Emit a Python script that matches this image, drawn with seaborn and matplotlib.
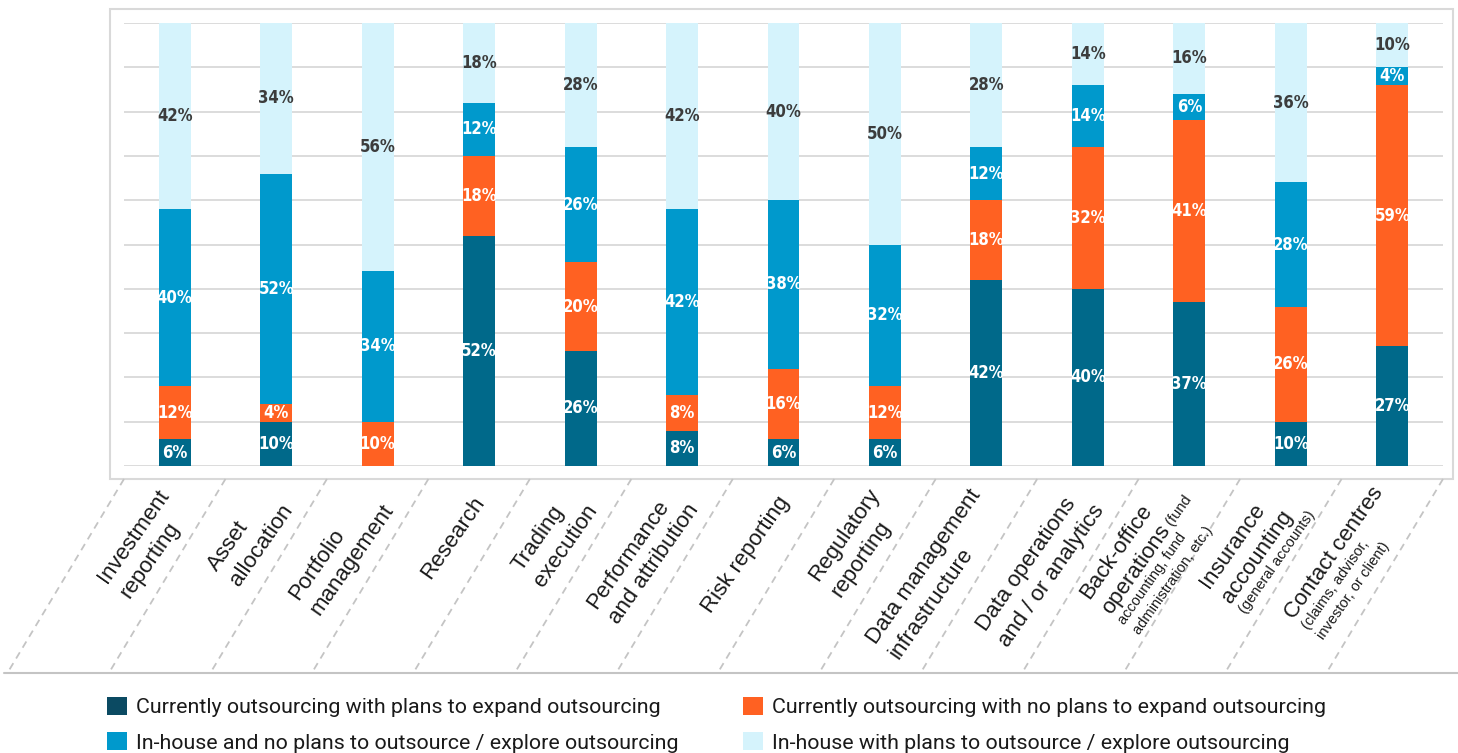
import numpy as np
import pandas as pd
import seaborn as sns
import matplotlib.pyplot as plt
from matplotlib import font_manager as fm
from matplotlib.patches import Patch, Rectangle
from matplotlib.lines import Line2D

# ---- data -------------------------------------------------------------
categories = [
    "Investment reporting", "Asset allocation", "Portfolio management",
    "Research", "Trading execution", "Performance and attribution",
    "Risk reporting", "Regulatory reporting", "Data management infrastructure",
    "Data operations and / or analytics", "Back-office operations",
    "Insurance accounting", "Contact centres",
]
expanding = [6, 10, 0, 52, 26, 8, 6, 6, 42, 40, 37, 10, 27]
not_expanding = [12, 4, 10, 18, 20, 8, 16, 12, 18, 32, 41, 26, 59]
inhouse_no_plans = [40, 52, 34, 12, 26, 42, 38, 32, 12, 14, 6, 28, 4]
inhouse_plans = [42, 34, 56, 18, 28, 42, 40, 50, 28, 14, 16, 36, 10]

series_names = [
    "Currently outsourcing with plans to expand outsourcing",
    "Currently outsourcing with no plans to expand outsourcing",
    "In-house and no plans to outsource / explore outsourcing",
    "In-house with plans to outsource / explore outsourcing",
]

# axis labels: lines of (text, is_small) runs
category_lines = [
    [[("Investment", False)], [("reporting", False)]],
    [[("Asset", False)], [("allocation", False)]],
    [[("Portfolio", False)], [("management", False)]],
    [[("Research", False)]],
    [[("Trading", False)], [("execution", False)]],
    [[("Performance", False)], [("and attribution", False)]],
    [[("Risk reporting", False)]],
    [[("Regulatory", False)], [("reporting", False)]],
    [[("Data management", False)], [("infrastructure", False)]],
    [[("Data operations", False)], [("and / or analytics", False)]],
    [[("Back-office", False)], [("operations", False), (" (fund", True)],
     [("accounting, fund", True)], [("administration, etc.)", True)]],
    [[("Insurance", False)], [("accounting", False)], [("(general accounts)", True)]],
    [[("Contact centres", False)], [("(claims, advisor,", True)],
     [("investor, or client)", True)]],
]

# ---- style ------------------------------------------------------------
bar_colors = ["#00698A", "#FF6122", "#0099CC", "#D5F3FC"]
legend_colors = ["#0B4A62", "#FF6122", "#0099CC", "#D5F3FC"]
label_colors = ["white", "white", "white", "#3C3C3C"]
grid_color = "#D9D9D9"

sns.set_theme(style="white")
plt.rcParams["font.family"] = ["Liberation Sans", "DejaVu Sans"]


def condensed_bold_font():
    """Find the narrowest bold sans face that is installed."""
    rank_stretch = {"ultra-condensed": 0, "extra-condensed": 1,
                    "condensed": 2, "semi-condensed": 3}
    best, best_key = None, None
    for f in fm.fontManager.ttflist:
        name = f.name.lower()
        st = f.stretch
        if not isinstance(st, str):
            st = "condensed" if st <= 300 else ("semi-condensed" if st < 500 else "normal")
        if "narrow" in name:
            st = "condensed" if st == "normal" else st
        if "condensed" in name and st == "normal":
            st = "condensed"
        if st not in rank_stretch:
            continue
        w = f.weight
        if isinstance(w, str):
            w = fm.weight_dict.get(w, 400)
        if w < 600 or w > 800 or f.style != "normal":
            continue
        if "mono" in name or "serif" in name and "sans" not in name:
            continue
        key = (rank_stretch[st], abs(w - 700))
        if best_key is None or key < best_key:
            best, best_key = f, key
    if best is None:
        return fm.FontProperties(family="DejaVu Sans", weight="bold"), None
    return fm.FontProperties(fname=best.fname), best_key


value_font, vf_key = condensed_bold_font()
value_size = 12 if vf_key is not None else 10.5

W, H = 1458, 753
fig = plt.figure(figsize=(W / 100, H / 100), dpi=100)
ax = fig.add_axes([124 / W, 1 - 466 / H, (1443 - 124) / W, (466 - 23) / H])

layers = [expanding, not_expanding, inhouse_no_plans, inhouse_plans]
cums = np.cumsum(np.array(layers, dtype=float), axis=0)

df = pd.DataFrame({"category": categories})
for k in range(4):
    df[f"top{k}"] = cums[k]

# stacked bars: draw the cumulative totals from the top layer downwards
for k in range(3, -1, -1):
    sns.barplot(data=df, x="category", y=f"top{k}", order=categories,
                color=bar_colors[k], saturation=1, width=0.315,
                linewidth=0, errorbar=None, ax=ax)

# value labels
for k in range(4):
    vals = layers[k]
    for i, v in enumerate(vals):
        if v <= 0:
            continue
        ymid = cums[k][i] - v / 2
        fp = value_font.copy()
        fp.set_size(value_size)
        ax.text(i, ymid, f"{v}%", ha="center", va="center",
                color=label_colors[k], fontproperties=fp)

ax.set_xlim(-0.5, len(categories) - 0.5)
ax.set_ylim(0, 100)
ax.set_yticks(np.arange(0, 101, 10))
ax.set_yticklabels([])
ax.set_xticks([])
ax.set_xlabel("")
ax.set_ylabel("")
ax.tick_params(length=0)
ax.yaxis.grid(True, color=grid_color, linewidth=1.3)
ax.set_axisbelow(True)
for s in ax.spines.values():
    s.set_visible(False)

# outer frame around the plotting area
fig.add_artist(Rectangle((110 / W, 1 - 479 / H), (1453 - 110) / W, (479 - 9) / H,
                         transform=fig.transFigure, fill=False,
                         edgecolor=grid_color, linewidth=1.5))

# dashed slanted separators between the category labels
fig.canvas.draw()
sep_color = "#C4C4C4"
for b in range(len(categories) + 1):
    xt = ax.transData.transform((b - 0.5, 0))[0]
    xb = xt - 116
    fig.add_artist(Line2D([xt / W, xb / W], [1 - 479 / H, 1 - 672 / H],
                          transform=fig.transFigure, color=sep_color,
                          linewidth=1.3, linestyle=(0, (4, 3))))
fig.add_artist(Line2D([4 / W, 1.0], [1 - 673 / H, 1 - 673 / H],
                      transform=fig.transFigure, color=sep_color, linewidth=1.5))

# rotated category labels, each block centred on its right edge below the bar
theta = np.deg2rad(55)
u = np.array([np.cos(theta), np.sin(theta)])      # along text
p = np.array([np.sin(theta), -np.cos(theta)])     # towards next line
big, small = 16.0, 10.5
renderer = fig.canvas.get_renderer()


def text_width(s, size):
    t = fig.text(0, 0, s, fontsize=size)
    w = t.get_window_extent(renderer).width
    t.remove()
    return w


for i, lines in enumerate(category_lines):
    widths, heights = [], []
    for line in lines:
        widths.append(sum(text_width(s, small if sm else big) for s, sm in line))
        msize = max(small if sm else big for s, sm in line)
        heights.append(1.2 * msize * 100 / 72)
    offs = np.cumsum([0] + heights[1:])
    centre_off = (offs[0] + offs[-1]) / 2
    wmax = max(widths)
    ax_x = ax.transData.transform((i, 0))[0]
    anchor = np.array([ax_x + 6, H - 502])
    for j, line in enumerate(lines):
        start = anchor - wmax * u + (offs[j] - centre_off) * p
        cur = 0.0
        for s, sm in line:
            size = small if sm else big
            pos = start + cur * u
            fig.text(pos[0] / W, pos[1] / H, s, fontsize=size, color="#1A1A1A",
                     rotation=55, rotation_mode="anchor",
                     ha="left", va="baseline")
            cur += text_width(s, size)

# legend in two columns
handles = [Patch(facecolor=c, edgecolor="none") for c in legend_colors]
for col, idx in enumerate([(0, 2), (1, 3)]):
    x0 = [107, 743][col]
    leg = fig.legend([handles[n] for n in idx], [series_names[n] for n in idx],
                     loc="upper left", bbox_to_anchor=(x0 / W, 1 - 697 / H),
                     frameon=False, borderpad=0, borderaxespad=0,
                     handlelength=0.92, handleheight=0.92, handletextpad=0.45,
                     labelspacing=0.7,
                     prop={"family": ["Roboto", "DejaVu Sans"], "size": 15.4})
    for t in leg.get_texts():
        t.set_color("#1A1A1A")

fig.savefig("out.png", dpi=100)
